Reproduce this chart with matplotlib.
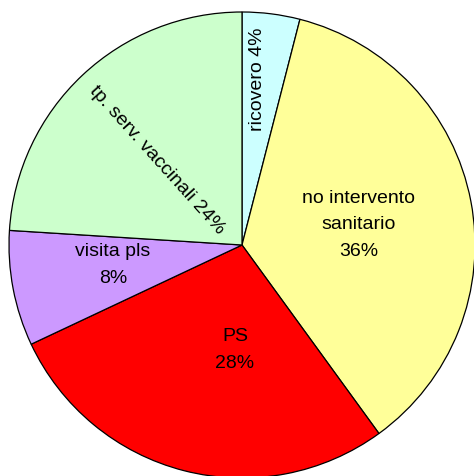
import matplotlib
matplotlib.use('Agg')
import matplotlib.pyplot as plt

labels = ['ricovero', 'no intervento\nsanitario', 'PS', 'visita pls', 'tp. serv. vaccinali']
values = [4, 36, 28, 8, 24]
colors = ['#CCFFFF', '#FFFF99', '#FF0000', '#CC99FF', '#CCFFCC']

plt.rcParams['font.family'] = ['Liberation Sans', 'DejaVu Sans']

fig = plt.figure(figsize=(4.74, 4.77), dpi=100)
# pie centre at pixel (242,246), radius 233 px
cx, cy, r = 242, 246, 233
W, H = 474, 477
ax = fig.add_axes([(cx - r) / W, (H - cy - r) / H, 2 * r / W, 2 * r / H])
ax.pie(values, colors=colors, startangle=90, counterclock=False, radius=1,
       wedgeprops=dict(edgecolor='black', linewidth=0.9))
ax.set_xlim(-1, 1)
ax.set_ylim(-1, 1)
ax.set_aspect('equal')
ax.axis('off')

def px(x, y):
    return (x - cx) / r, (cy - y) / r

# label placement (pixel positions from reference), text built from data
pos = [(258, 79), (359, 225), (235, 350), (113, 265), (157, 160)]
rot = [90, 0, 0, 0, -48]
for lab, v, p, a in zip(labels, values, pos, rot):
    if a == 0:
        txt = '%s\n%d%%' % (lab, v)
    else:
        txt = '%s %d%%' % (lab, v)
    x, y = px(*p)
    ax.text(x, y, txt, ha='center', va='center', rotation=a, fontsize=14,
            linespacing=1.7, rotation_mode='anchor')

fig.savefig('out.png', dpi=100)
